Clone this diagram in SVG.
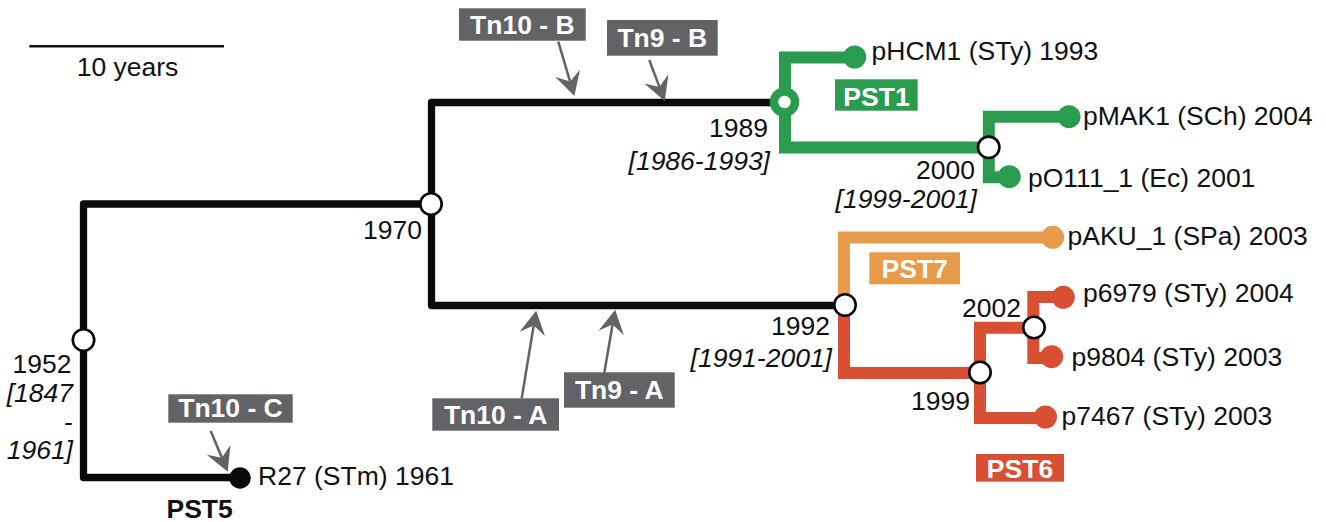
<svg xmlns="http://www.w3.org/2000/svg" width="1326" height="522" viewBox="0 0 1326 522">
<style>
text{font-family:"Liberation Sans",Arial,sans-serif;font-size:26.5px;fill:#111}
.it{font-style:italic}
.end{text-anchor:end}
.mid{text-anchor:middle}
.b{font-weight:bold}
.w{fill:#fff;font-weight:bold;text-anchor:middle}
.blk{fill:none;stroke:#0a0a0a;stroke-width:7.3;stroke-linejoin:round}
.grn{fill:none;stroke:#2b9c4f;stroke-width:12;stroke-linejoin:miter}
.org{fill:none;stroke:#e89b4a;stroke-width:12;stroke-linejoin:miter}
.red{fill:none;stroke:#d84f34;stroke-width:12;stroke-linejoin:miter}
.node{fill:#fff;stroke:#0a0a0a;stroke-width:2.6}
.arr{stroke:#616366;stroke-width:2.5;fill:none;marker-end:url(#ah)}
.box{fill:#616366}
</style>
<defs>
<marker id="ah" markerUnits="userSpaceOnUse" markerWidth="30" markerHeight="30" viewBox="-24 -14 28 28" refX="-14" refY="0" orient="auto">
<path d="M0,0 L-22,-12 L-14,0 L-22,12 Z" fill="#616366"/>
</marker>
</defs>

<g id="scale">
<line x1="29.3" y1="46.3" x2="224" y2="46.3" stroke="#111" stroke-width="2.5"/>
<text class="mid" x="127.5" y="76">10 years</text>
</g>

<g id="connectors">
<path class="blk" d="M240,477.5 H83.5 V204 H431"/>
<path class="blk" d="M784,102.5 H431.5 V305.5 H845"/>
<path class="grn" d="M854.7,57.5 H785 V147.5 H988.7"/>
<path class="grn" d="M1069,116.7 H988.8 V177.3 H1009"/>
<path class="org" d="M1052.7,237.5 H844 V305"/>
<path class="red" d="M844,305 V373 H980"/>
<path class="red" d="M1033.5,327.8 H980 V418 H1046"/>
<path class="red" d="M1063.3,297 H1033.3 V358 H1051.7"/>
<line class="arr" x1="558.3" y1="41.7" x2="570.1" y2="81.6"/>
<line class="arr" x1="649.3" y1="60" x2="659.4" y2="86.9"/>
<line class="arr" x1="210.7" y1="431" x2="221.9" y2="457.8"/>
<line class="arr" x1="521.7" y1="398.3" x2="533.7" y2="325.5"/>
<line class="arr" x1="604.3" y1="372.7" x2="612.6" y2="324.5"/>
</g>

<g id="n1952"><circle class="node" cx="83.5" cy="340" r="10.7"/>
<text class="end" x="71.5" y="373">1952</text>
<text class="end it" x="73" y="402">[1847</text>
<text class="end it" x="72.5" y="431">-</text>
<text class="end it" x="73" y="458.5">1961]</text></g>
<g id="n1970"><circle class="node" cx="431" cy="204" r="10.7"/>
<text class="end" x="422" y="239">1970</text></g>
<g id="n1989"><circle cx="784.5" cy="102" r="10.5" fill="#fff" stroke="#2b9c4f" stroke-width="8.6"/>
<text class="end" x="768" y="137">1989</text>
<text class="end it" x="770" y="170">[1986-1993]</text></g>
<g id="n2000"><circle class="node" cx="988.7" cy="147.3" r="10.7"/>
<text class="end" x="975" y="179">2000</text>
<text class="end it" x="977" y="208">[1999-2001]</text></g>
<g id="n1992"><circle class="node" cx="845" cy="305" r="10.7"/>
<text class="end" x="830" y="335">1992</text>
<text class="end it" x="832" y="367">[1991-2001]</text></g>
<g id="n1999"><circle class="node" cx="980" cy="372.5" r="10.7"/>
<text class="end" x="970" y="410">1999</text></g>
<g id="n2002"><circle class="node" cx="1034" cy="327.5" r="10.7"/>
<text class="end" x="1021" y="317">2002</text></g>

<g id="R27"><circle cx="240" cy="478" r="10.7" fill="#0a0a0a"/>
<text x="258" y="485">R27 (STm) 1961</text>
<text class="b" x="166.5" y="518">PST5</text></g>
<g id="pHCM1"><circle cx="854.7" cy="57" r="11.5" fill="#2b9c4f"/>
<text x="871.5" y="60">pHCM1 (STy) 1993</text></g>
<g id="pMAK1"><circle cx="1069" cy="116.7" r="11.5" fill="#2b9c4f"/>
<text x="1083" y="125">pMAK1 (SCh) 2004</text></g>
<g id="pO111_1"><circle cx="1009.3" cy="176.7" r="11.5" fill="#2b9c4f"/>
<text x="1028" y="187">pO111_1 (Ec) 2001</text></g>
<g id="pAKU_1"><circle cx="1052.7" cy="237.3" r="11.5" fill="#e89b4a"/>
<text x="1067.5" y="244.5">pAKU_1 (SPa) 2003</text></g>
<g id="p6979"><circle cx="1063.3" cy="297.3" r="11.5" fill="#d84f34"/>
<text x="1083" y="302">p6979 (STy) 2004</text></g>
<g id="p9804"><circle cx="1051.7" cy="356.7" r="11.5" fill="#d84f34"/>
<text x="1071.5" y="366">p9804 (STy) 2003</text></g>
<g id="p7467"><circle cx="1045.5" cy="417" r="11.5" fill="#d84f34"/>
<text x="1061.5" y="425">p7467 (STy) 2003</text></g>

<g id="PST1"><rect x="835" y="79.3" width="82.7" height="31.4" fill="#2b9c4f"/><text class="w" x="876.5" y="105.5">PST1</text></g>
<g id="PST7"><rect x="869.3" y="252.3" width="90.7" height="32" fill="#e89b4a"/><text class="w" x="914.7" y="278">PST7</text></g>
<g id="PST6"><rect x="976" y="454" width="88" height="27.7" fill="#d84f34"/><text class="w" x="1020" y="477.5">PST6</text></g>

<g id="Tn10B"><rect class="box" x="459" y="8.3" width="126.7" height="32.4"/><text class="w" x="522.3" y="34">Tn10 - B</text></g>
<g id="Tn9B"><rect class="box" x="607" y="20" width="110.7" height="35.7"/><text class="w" x="662.3" y="46.5">Tn9 - B</text></g>
<g id="Tn10A"><rect class="box" x="432.3" y="398.3" width="126.7" height="32.4"/><text class="w" x="495.7" y="424">Tn10 - A</text></g>
<g id="Tn9A"><rect class="box" x="564" y="372.3" width="110.7" height="35.4"/><text class="w" x="619.3" y="398.5">Tn9 - A</text></g>
<g id="Tn10C"><rect class="box" x="168.3" y="394.3" width="124.4" height="28.4"/><text class="w" x="230.5" y="417">Tn10 - C</text></g>
</svg>
